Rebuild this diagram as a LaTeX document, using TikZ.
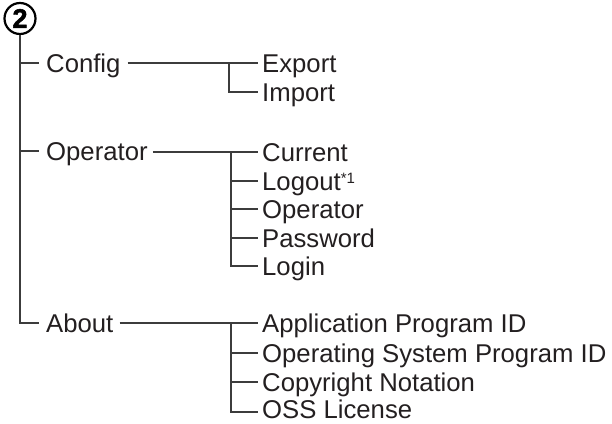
\documentclass[tikz,border=0pt]{standalone}
\usepackage{fontspec}
\setmainfont{Liberation Sans}
\newfontfamily\rootfont[FakeBold=1.6]{Liberation Sans Bold}
\usetikzlibrary{calc}
\definecolor{lc}{HTML}{3C3C3C}
\definecolor{txt}{HTML}{231F20}
\tikzset{
  lbl/.style={anchor=base west, inner sep=0pt, text=txt, font=\fontsize{25.7}{30}\selectfont},
  tree/.style={draw=lc, line width=1.4pt},
  rootc/.style={circle, draw=black, line width=2.2pt, minimum size=31pt, inner sep=0pt, font=\rootfont\fontsize{27}{27}\selectfont}
}
\begin{document}
\begin{tikzpicture}[x=1pt,y=-1pt]
\useasboundingbox (0,0) rectangle (612,423);
% root
\node[rootc] (root) at (20,18.5) {2};
% junction coordinates
\coordinate (jc) at (20,63);
\coordinate (jo) at (20,151);
\coordinate (ja) at (20,323);
% first-level labels
\node[lbl] (config) at (46,72.2) {Config};
\node[lbl] (operator) at (46,160.2) {Operator};
\node[lbl] (about) at (46,332.2) {About};
% second-level junctions
\coordinate (vc) at (229,63);
\coordinate (vo) at (231,152);
\coordinate (va) at (231,323);
% children
\node[lbl] (export) at (262,72.2) {Export};
\node[lbl] (import) at (262,101.2) {Import};
\node[lbl] (current) at (262,161.2) {Current};
\node[lbl] (logout) at (262,190.2) {Logout\raisebox{7pt}{\fontsize{15}{15}\selectfont*1}};
\node[lbl] (opop) at (262,218.2) {Operator};
\node[lbl] (password) at (262,247.2) {Password};
\node[lbl] (login) at (262,275.2) {Login};
\node[lbl] (appid) at (262,332.2) {Application Program ID};
\node[lbl] (osid) at (262,362.2) {Operating System Program ID};
\node[lbl] (copy) at (262,391.2) {Copyright Notation};
\node[lbl] (oss) at (262,418.5) {OSS License};
% main trunk
\draw[tree] (root.south) -- (ja) -- ($(about.west |- ja)+(-7,0)$);
\draw[tree] (jc) -- ($(config.west |- jc)+(-7,0)$);
\draw[tree] (jo) -- ($(operator.west |- jo)+(-7,0)$);
% Config branch
\draw[tree] ($(config.east |- jc)+(7,0)$) -- (vc) -- ($(export.west |- vc)+(-4,0)$);
\draw[tree] (vc) |- ($(import.west |- 0,92)+(-4,0)$);
% Operator branch
\draw[tree] ($(operator.east |- 0,152)+(5,0)$) -- (vo) -- ($(current.west |- vo)+(-4,0)$);
\draw[tree] (vo) |- ($(login.west |- 0,266)+(-4,0)$);
\draw[tree] (231,181) -- ($(logout.west |- 0,181)+(-4,0)$);
\draw[tree] (231,209) -- ($(opop.west |- 0,209)+(-4,0)$);
\draw[tree] (231,238) -- ($(password.west |- 0,238)+(-4,0)$);
% About branch
\draw[tree] ($(about.east |- ja)+(6,0)$) -- (va) -- ($(appid.west |- va)+(-4,0)$);
\draw[tree] (va) |- ($(oss.west |- 0,412)+(-4,0)$);
\draw[tree] (231,353) -- ($(osid.west |- 0,353)+(-4,0)$);
\draw[tree] (231,382) -- ($(copy.west |- 0,382)+(-4,0)$);
\end{tikzpicture}
\end{document}
